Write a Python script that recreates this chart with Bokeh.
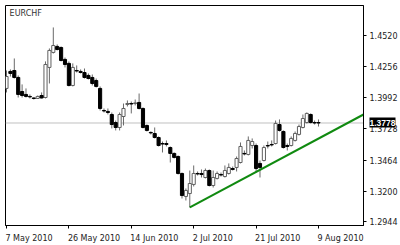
from bokeh.plotting import figure
from bokeh.models import (Range1d, FixedTicker, Span, Label, ColumnDataSource,
                          NumeralTickFormatter, LinearAxis)
from bokeh.embed import file_html
from bokeh.resources import INLINE

symbol = "EURCHF"

opens = [1.4071, 1.4215, 1.4223, 1.4164, 1.4045, 1.4020, 1.4003, 1.3990, 1.3986, 1.4011,
         1.3994, 1.4249, 1.4376, 1.4427, 1.4418, 1.4317, 1.4283, 1.4096, 1.4223, 1.4215,
         1.4206, 1.4181, 1.4164, 1.4138, 1.4071, 1.3884, 1.3876, 1.3850, 1.3782, 1.3740,
         1.3833, 1.3935, 1.3943, 1.3943, 1.3952, 1.3901, 1.3757, 1.3698, 1.3689, 1.3655,
         1.3604, 1.3604, 1.3570, 1.3520, 1.3494, 1.3350, 1.3155, 1.3180, 1.3257, 1.3350,
         1.3350, 1.3316, 1.3375, 1.3248, 1.3308, 1.3341, 1.3324, 1.3350, 1.3392, 1.3401,
         1.3443, 1.3520, 1.3511, 1.3587, 1.3587, 1.3435, 1.3460, 1.3587, 1.3596, 1.3604,
         1.3765, 1.3706, 1.3587, 1.3587, 1.3630, 1.3681, 1.3740, 1.3782, 1.3850, 1.3782,
         1.3782]
highs = [1.4223, 1.4232, 1.4325, 1.4181, 1.4105, 1.4071, 1.4020, 1.3994, 1.4011, 1.4037,
         1.4300, 1.4410, 1.4588, 1.4444, 1.4427, 1.4333, 1.4300, 1.4283, 1.4266, 1.4232,
         1.4240, 1.4198, 1.4189, 1.4155, 1.4088, 1.3901, 1.3901, 1.3867, 1.3799, 1.3867,
         1.3943, 1.3969, 1.3960, 1.3977, 1.4028, 1.3910, 1.3765, 1.3706, 1.3740, 1.3664,
         1.3621, 1.3630, 1.3579, 1.3528, 1.3503, 1.3358, 1.3223, 1.3375, 1.3418, 1.3367,
         1.3384, 1.3392, 1.3384, 1.3375, 1.3367, 1.3358, 1.3418, 1.3435, 1.3409, 1.3494,
         1.3613, 1.3545, 1.3664, 1.3647, 1.3604, 1.3460, 1.3587, 1.3621, 1.3630, 1.3799,
         1.3808, 1.3715, 1.3604, 1.3664, 1.3706, 1.3765, 1.3850, 1.3867, 1.3859, 1.3799,
         1.3808]
lows = [1.4037, 1.4172, 1.4155, 1.3994, 1.3994, 1.3994, 1.3986, 1.3977, 1.3982, 1.3986,
        1.3986, 1.4113, 1.4367, 1.4393, 1.4300, 1.4249, 1.4088, 1.4088, 1.4206, 1.4198,
        1.4155, 1.4147, 1.4096, 1.4079, 1.3884, 1.3867, 1.3850, 1.3732, 1.3715, 1.3715,
        1.3757, 1.3918, 1.3859, 1.3927, 1.3893, 1.3732, 1.3706, 1.3681, 1.3647, 1.3579,
        1.3528, 1.3579, 1.3443, 1.3477, 1.3341, 1.3138, 1.3121, 1.3062, 1.3240, 1.3333,
        1.3316, 1.3308, 1.3240, 1.3231, 1.3299, 1.3324, 1.3316, 1.3341, 1.3375, 1.3367,
        1.3435, 1.3503, 1.3503, 1.3562, 1.3358, 1.3316, 1.3452, 1.3562, 1.3579, 1.3596,
        1.3706, 1.3562, 1.3545, 1.3579, 1.3621, 1.3672, 1.3732, 1.3774, 1.3774, 1.3765,
        1.3748]
closes = [1.4172, 1.4198, 1.4164, 1.4020, 1.4011, 1.4003, 1.3999, 1.3986, 1.4003, 1.3990,
          1.4274, 1.4393, 1.4435, 1.4401, 1.4308, 1.4274, 1.4096, 1.4249, 1.4219, 1.4206,
          1.4164, 1.4155, 1.4113, 1.4088, 1.3901, 1.3880, 1.3867, 1.3765, 1.3740, 1.3850,
          1.3901, 1.3943, 1.3939, 1.3948, 1.3901, 1.3740, 1.3715, 1.3694, 1.3655, 1.3587,
          1.3600, 1.3596, 1.3520, 1.3486, 1.3350, 1.3163, 1.3206, 1.3265, 1.3350, 1.3346,
          1.3341, 1.3375, 1.3248, 1.3316, 1.3350, 1.3337, 1.3375, 1.3401, 1.3384, 1.3477,
          1.3579, 1.3516, 1.3630, 1.3621, 1.3392, 1.3401, 1.3570, 1.3583, 1.3592, 1.3774,
          1.3715, 1.3570, 1.3579, 1.3647, 1.3689, 1.3748, 1.3816, 1.3859, 1.3782, 1.3778,
          1.3778]

date_tick_index = [0, 16, 32, 48, 64, 80]
date_tick_labels = ["7 May 2010", "26 May 2010", "14 Jun 2010", "2 Jul 2010", "21 Jul 2010", "9 Aug 2010"]
price_ticks = [1.4520, 1.4256, 1.3992, 1.3728, 1.3464, 1.3200, 1.2944]
last_price = 1.3778
trend_x = [47, 92]
trend_y = [1.3062, 1.3858]

bar_index = list(range(len(opens)))
up = [c >= o for o, c in zip(opens, closes)]
src_up = ColumnDataSource(dict(
    x=[i for i, u in zip(bar_index, up) if u],
    top=[max(o, c) for o, c, u in zip(opens, closes, up) if u],
    bottom=[min(o, c) for o, c, u in zip(opens, closes, up) if u]))
src_dn = ColumnDataSource(dict(
    x=[i for i, u in zip(bar_index, up) if not u],
    top=[max(o, c) for o, c, u in zip(opens, closes, up) if not u],
    bottom=[min(o, c) for o, c, u in zip(opens, closes, up) if not u]))
src_wick = ColumnDataSource(dict(x=bar_index, hi=highs, lo=lows))

X0, X1 = -0.256, 91.54
FRAME_W = 400 - 5 - 37
p = figure(width=400, height=245, output_backend="svg", toolbar_location=None,
           x_range=Range1d(X0, X1), y_range=Range1d(1.2909, 1.4774),
           x_axis_location="below", y_axis_location="right",
           min_border_left=5, min_border_top=5, min_border_right=37, min_border_bottom=20)
p.background_fill_color = "white"
p.border_fill_color = "white"
p.outline_line_color = "black"
p.outline_line_width = 1
p.xgrid.visible = False
p.ygrid.visible = False

p.add_layout(Span(location=last_price, dimension="width", line_color="#c0c0c0",
                  line_width=1, level="underlay"))

p.segment(x0="x", x1="x", y0="lo", y1="hi", source=src_wick, line_color="#6a6a6a", line_width=1)
p.vbar(x="x", top="top", bottom="bottom", width=0.8, source=src_up,
       fill_color="white", line_color="#606060", line_width=1)
p.vbar(x="x", top="top", bottom="bottom", width=0.8, source=src_dn,
       fill_color="black", line_color="black", line_width=1)

p.line(trend_x, trend_y, line_color="#108a10", line_width=2)

for ax in p.yaxis:
    ax.ticker = FixedTicker(ticks=price_ticks)
    ax.formatter = NumeralTickFormatter(format="0.0000")
    ax.major_tick_out = 3
    ax.major_tick_in = 0
    ax.minor_tick_out = 0
    ax.minor_tick_in = 0
    ax.major_label_standoff = 3
    ax.major_label_text_font = "DejaVu Sans"
    ax.major_label_text_font_size = "8px"
    ax.major_label_text_color = "#222222"
    ax.axis_line_color = "black"
    ax.major_tick_line_color = "black"

# last-price box: a second right axis whose single thick tick forms the black box
box_axis = LinearAxis(ticker=FixedTicker(ticks=[last_price]),
                      formatter=NumeralTickFormatter(format="0.0000"),
                      axis_line_color=None, major_tick_in=31, major_tick_out=-5,
                      major_tick_line_width=10, major_tick_line_color="black",
                      major_tick_line_cap="butt",
                      minor_tick_in=0, minor_tick_out=0,
                      major_label_standoff=-31, major_label_text_font="Liberation Sans",
                      major_label_text_font_size="8.5px", major_label_text_font_style="bold",
                      major_label_text_color="white")
p.add_layout(box_axis, "right")

# tick marks of the time axis
for ax in p.xaxis:
    ax.ticker = FixedTicker(ticks=date_tick_index)
    ax.major_label_overrides = {i: " " for i in date_tick_index}
    ax.major_tick_out = 3
    ax.major_tick_in = 0
    ax.minor_tick_out = 0
    ax.minor_tick_in = 0
    ax.major_label_standoff = 0
    ax.major_label_text_font_size = "1px"
    ax.axis_line_color = "black"
    ax.major_tick_line_color = "black"

# date labels start at their ticks (MetaTrader style): centre each label half its width to the right
CHAR_W = {d: 0.636 for d in "0123456789"}
CHAR_W.update({" ": 0.318, "M": 0.863, "a": 0.613, "y": 0.592, "J": 0.295, "u": 0.634,
               "n": 0.634, "l": 0.278, "A": 0.684, "g": 0.635})
FS = 8
px_per_unit = FRAME_W / (X1 - X0)
label_pos = [i + (sum(CHAR_W.get(ch, 0.6) for ch in lab) * FS / 2 - 1) / px_per_unit
             for i, lab in zip(date_tick_index, date_tick_labels)]
date_axis = LinearAxis(ticker=FixedTicker(ticks=label_pos),
                       major_label_overrides={pos: lab for pos, lab in zip(label_pos, date_tick_labels)},
                       axis_line_color=None, major_tick_in=0, major_tick_out=0,
                       minor_tick_in=0, minor_tick_out=0, major_label_standoff=1,
                       major_label_text_font="DejaVu Sans", major_label_text_font_size=f"{FS}px",
                       major_label_text_color="#222222")
p.add_layout(date_axis, "below")

p.add_layout(Label(x=0.8, y=1.4742, text=symbol, text_font="DejaVu Sans",
                   text_font_size="8px", text_color="#333333", text_baseline="top"))

open("out.html", "w").write(file_html(p, INLINE))
